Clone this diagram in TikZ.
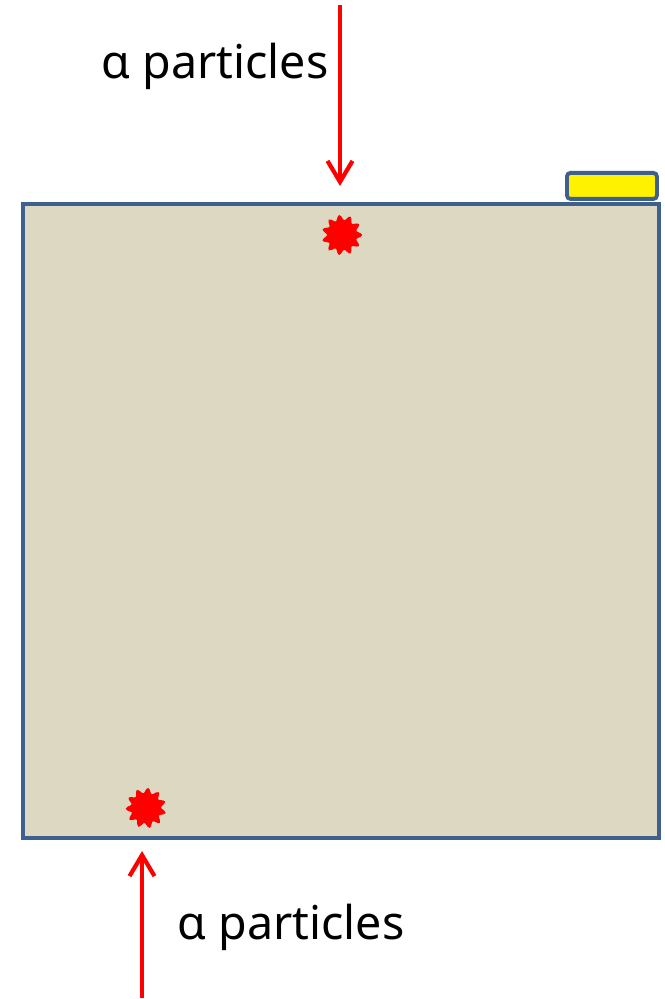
\documentclass[tikz,border=0pt]{standalone}
\usepackage{fontspec}
\setmainfont{Noto Sans}
\usepackage{tikz}
\usetikzlibrary{shapes.geometric, arrows.meta, positioning}
\definecolor{frameBlue}{HTML}{3F5F8C}
\definecolor{sampleTan}{HTML}{DDD8C2}
\definecolor{hitRed}{HTML}{FF0000}
\tikzset{
    box_sample/.style={
        rectangle, draw=frameBlue, line width=2.2pt, fill=sampleTan
    },
    box_contact/.style={
        rectangle, rounded corners=2pt, draw=frameBlue, line width=2.2pt, fill=yellow
    },
    hit_star/.style={
        star, star points=11, star point ratio=1.6, fill=hitRed, draw=hitRed,
        line width=1pt, rounded corners=1.5pt, minimum size=0.82cm, inner sep=0pt
    },
    beam_arrow/.style={
        -{Straight Barb[length=0.42cm, width=0.5cm, line width=2.4pt]}, draw=hitRed, line width=2.5pt
    },
    lbl/.style={
        font=\fontsize{26.5}{30}\selectfont, text=black, inner sep=0pt
    }
}
\begin{document}
\begin{tikzpicture}

    \useasboundingbox (0,0) rectangle (13.28,-19.98);

    % Sample block and contact pad
    \node[box_sample, minimum width=12.72cm, minimum height=12.68cm, anchor=north west] (sample) at (0.42,-4.04) {};
    \node[box_contact, minimum width=1.8cm, minimum height=0.52cm, anchor=north west] (contact) at (11.3,-3.42) {};

    % Impact points
    \node[hit_star, rotate=8] (hit_top) at (6.84,-4.7) {};
    \node[hit_star, rotate=-6] (hit_bot) at (2.92,-16.16) {};

    % Beam labels
    \node[lbl] (lbl_top) at (4.3,-1.32) {α particles};
    \node[lbl] (lbl_bot) at (5.82,-18.54) {α particles};

    % Incoming beams
    \coordinate (src_top) at (6.8,-0.1);
    \coordinate (end_top) at (6.8,-3.72);
    \coordinate (src_bot) at (2.84,-19.96);
    \coordinate (end_bot) at (2.84,-17.02);
    \draw[beam_arrow] (src_top) -- (end_top);
    \draw[beam_arrow] (src_bot) -- (end_bot);

\end{tikzpicture}
\end{document}
